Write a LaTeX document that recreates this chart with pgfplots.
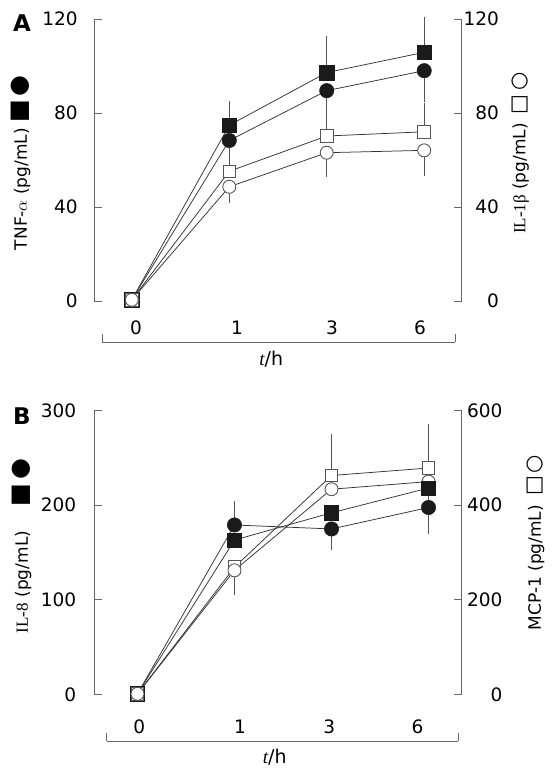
\documentclass[border=0pt]{standalone}
\usepackage{pgfplots}
\pgfplotsset{compat=1.18}
\usepackage{fontspec}
\setmainfont{DejaVu Sans}
\newfontfamily\serif{Liberation Serif}
\newfontfamily\sym{DejaVu Sans}

\definecolor{ax}{HTML}{666666}
\definecolor{ln}{HTML}{333333}
\definecolor{eb}{HTML}{555555}
\definecolor{fk}{HTML}{1A1A1A}
\definecolor{ok}{HTML}{555555}

\newcommand{\tickfont}{\fontsize{18.5bp}{20bp}\selectfont}
\newcommand{\labfont}{\fontsize{17bp}{20bp}\selectfont}

\pgfplotsset{
  base/.style={scale only axis, axis x line=none, clip=false,
    /pgf/number format/assume math mode=true,
    tick align=inside, major tick length=8bp,
    y axis line style={ax, line width=0.8bp},
    ytick style={ax, line width=0.8bp},
    yticklabel style={anchor=east, inner sep=0pt, font=\tickfont}},
  ser/.style={ln, line width=0.75bp,
    error bars/y dir=#1, error bars/y explicit,
    error bars/error bar style={eb, line width=0.8bp},
    error bars/error mark options={eb, mark size=3.7bp, line width=0.8bp}},
  fcirc/.style={mark=*, mark size=7.2bp, mark options={fill=fk, draw=fk, line width=0.5bp}},
  fsq/.style={mark=square*, mark size=7.2bp, mark options={fill=fk, draw=fk, line width=0.5bp}},
  ocirc/.style={mark=*, mark size=6.5bp, mark options={fill=white, draw=ok, line width=0.9bp}},
  osq/.style={mark=square*, mark size=6.3bp, mark options={fill=white, draw=ok, line width=0.9bp}},
  bracket/.style={scale only axis, anchor=south west, height=20bp,
    ymin=0, ymax=1, axis y line=none, axis x line*=bottom,
    x axis line style={ax, line width=0.8bp},
    xtick style={ax, line width=0.8bp},
    major tick length=0pt, tick align=inside,
    xticklabel style={anchor=center, inner sep=0pt, font=\tickfont},
    extra x tick labels={},
    extra x tick style={major tick length=7.7bp}},
}

\begin{document}
\begin{tikzpicture}[x=1bp,y=1bp]
\useasboundingbox (0,0) rectangle (556,772);

% ---------------- Panel A ----------------
\node[font=\fontsize{23bp}{24bp}\selectfont\bfseries] at (22,749) {A};

\begin{axis}[base, at={(94.3bp,471bp)}, anchor=south west,
  width=367.4bp, height=282bp, xmin=-0.385, xmax=3.385,
  ymin=0, ymax=120, ytick={0,40,80,120}, axis y line*=left,
  yticklabel style={xshift=-16.5bp},
  ylabel={TNF-$\alpha$ (pg/mL)\hspace{6bp}{\sym\fontsize{24bp}{24bp}\selectfont ■\hspace{3bp}●}},
  every axis y label/.style={at={(axis description cs:-0.2,0.49)}, anchor=center, rotate=90, font=\labfont}]
\addplot[ser=plus, fsq] coordinates {(0,0.5) +- (0,0) (1,74.8) +- (0,8.6) (2,97.2) +- (0,14.1) (3,105.8) +- (0,13.3)};
\addplot[ser=minus, fcirc] coordinates {(0,0.5) +- (0,0) (1,68.3) +- (0,6.5) (2,89.5) +- (0,8.6) (3,98.0) +- (0,11.7)};
\end{axis}

\begin{axis}[base, at={(94.3bp,471bp)}, anchor=south west,
  width=367.4bp, height=282bp, xmin=-0.385, xmax=3.385,
  ymin=0, ymax=120, ytick={0,40,80,120}, axis y line*=right,
  yticklabel style={xshift=37.5bp},
  ylabel={{\serif IL-1β} (pg/mL)\hspace{9bp}{\sym\fontsize{21bp}{21bp}\selectfont □\hspace{4bp}○}},
  every axis y label/.style={at={(axis description cs:1.160,0.525)}, anchor=center, rotate=90, font=\labfont}]
\addplot[ser=plus, osq] coordinates {(0,0.5) +- (0,0) (1,55.2) +- (0,4.4) (2,70.2) +- (0,8.7) (3,72.0) +- (0,10.7)};
\addplot[ser=minus, ocirc] coordinates {(0,0.5) +- (0,0) (1,48.6) +- (0,5.2) (2,63.1) +- (0,8.8) (3,64.1) +- (0,9.3)};
\end{axis}

\begin{axis}[bracket, at={(102.3bp,430bp)}, width=352.7bp,
  xmin=102.3, xmax=455, xtick={136,237,332,420}, xticklabels={0,1,3,6},
  xticklabel style={yshift=14.2bp},
  extra x ticks={102.3,455},
  xlabel={{\serif\itshape t}/h},
  every axis x label/.style={at={(axis description cs:0.479,0)}, anchor=center, yshift=-16.8bp, font=\fontsize{19bp}{20bp}\selectfont}]
\end{axis}

% ---------------- Panel B ----------------
\node[font=\fontsize{23bp}{24bp}\selectfont\bfseries] at (22,356.3) {B};

\begin{axis}[base, at={(94.3bp,77.7bp)}, anchor=south west,
  width=367.4bp, height=283.6bp, xmin=-0.445, xmax=3.342,
  ymin=0, ymax=600, ytick={0,200,400,600}, axis y line*=right,
  yticklabel style={xshift=41bp},
  ylabel={MCP-1 (pg/mL)\hspace{9bp}{\sym\fontsize{21bp}{21bp}\selectfont □\hspace{3bp}○}},
  every axis y label/.style={at={(axis description cs:1.202,0.535)}, anchor=center, rotate=90, font=\labfont}]
\addplot[ser=plus, osq] coordinates {(0,1) +- (0,0) (1,268.9) +- (0,0) (2,462.9) +- (0,81) (3,478.7) +- (0,86)};
\addplot[ser=minus, ocirc] coordinates {(0,1) +- (0,0) (1,262.3) +- (0,45) (2,433.9) +- (0,0) (3,450.0) +- (0,0)};
\end{axis}

\begin{axis}[base, at={(94.3bp,77.7bp)}, anchor=south west,
  width=367.4bp, height=283.6bp, xmin=-0.445, xmax=3.342,
  ymin=0, ymax=300, ytick={0,100,200,300}, axis y line*=left,
  yticklabel style={xshift=-18bp},
  ylabel={{\serif IL-8} (pg/mL)\hspace{24bp}{\sym\fontsize{24bp}{24bp}\selectfont ■\hspace{5bp}●}},
  every axis y label/.style={at={(axis description cs:-0.197,0.524)}, anchor=center, rotate=90, font=\labfont}]
\addplot[ser=minus, fsq] coordinates {(0,0.5) +- (0,0) (1,163.2) +- (0,0) (2,192.0) +- (0,0) (3,218.2) +- (0,30)};
\addplot[ser=both, fcirc] coordinates {(0,0.5) += (0,0) -= (0,0) (1,179.1) += (0,21) -= (0,0) (2,174.9) += (0,0) -= (0,18) (3,197.6) += (0,0) -= (0,24)};
% open markers at t = 0 lie on top of the filled ones (MCP-1 value 1 = 0.5 on this axis)
\addplot[only marks, osq] coordinates {(0,0.5)};
\addplot[only marks, ocirc] coordinates {(0,0.5)};
\end{axis}

\begin{axis}[bracket, at={(106.7bp,31bp)}, width=351.6bp,
  xmin=106.7, xmax=458.3, xtick={139.2,240,329.3,417.5}, xticklabels={0,1,3,6},
  xticklabel style={yshift=14.3bp},
  extra x ticks={106.7,458.3},
  xlabel={{\serif\itshape t}/h},
  every axis x label/.style={at={(axis description cs:0.478,0)}, anchor=center, yshift=-16bp, font=\fontsize{19bp}{20bp}\selectfont}]
\end{axis}
\end{tikzpicture}
\end{document}
